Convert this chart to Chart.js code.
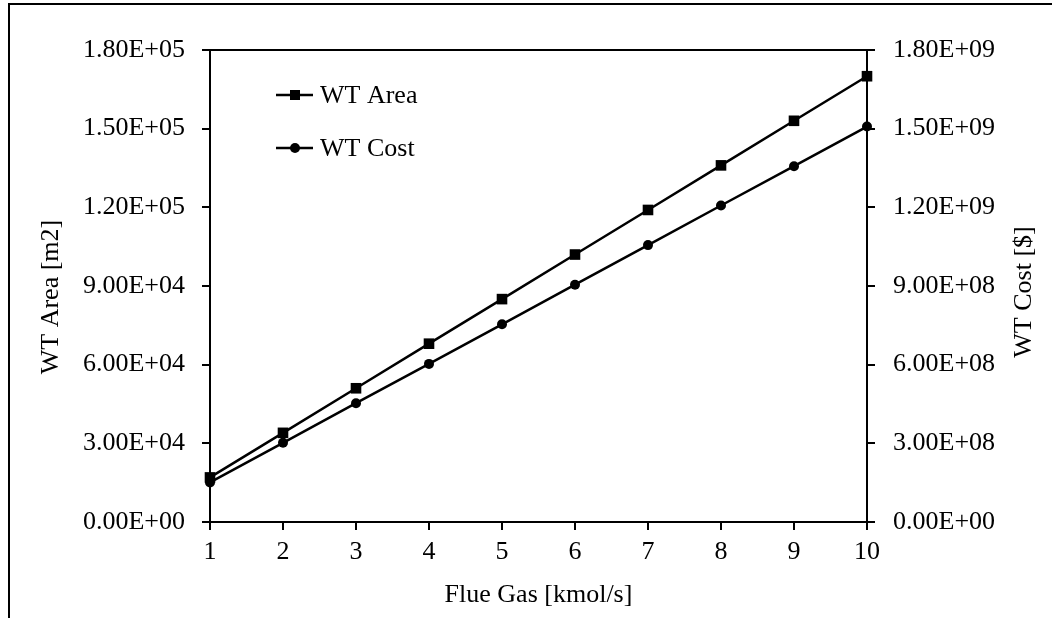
<!DOCTYPE html>
<html>
<head>
<meta charset="utf-8">
<title>WT Area and Cost</title>
<script src="https://cdn.jsdelivr.net/npm/chart.js@4/dist/chart.umd.min.js"></script>
<style>
  body { margin: 0; background: #fff; }
  canvas { display: block; }
</style>
</head>
<body>
<canvas id="chart" width="1052" height="618"></canvas>
<script>
// values
const flueGas = [1, 2, 3, 4, 5, 6, 7, 8, 9, 10];
const wtArea = [17000, 34000, 51000, 68000, 85000, 102000, 119000, 136000, 153000, 170000];
const wtCost = [1.51e8, 3.02e8, 4.53e8, 6.03e8, 7.54e8, 9.05e8, 1.056e9, 1.207e9, 1.357e9, 1.508e9];
const seriesNames = ['WT Area', 'WT Cost'];
const axisTitles = ['Flue Gas [kmol/s]', 'WT Area [m2]', 'WT Cost [$]'];

const serif = "'Liberation Serif', 'Times New Roman', serif";
const fs = 26;

function sci(v) {
    if (v === 0) return '0.00E+00';
    let e = Math.floor(Math.log10(Math.abs(v)) + 1e-9);
    let m = v / Math.pow(10, e);
    let es = (e < 0 ? '-' : '+') + String(Math.abs(e)).padStart(2, '0');
    return m.toFixed(2) + 'E' + es;
}

function sideTitle(ctx, text, x, y) {
    ctx.save();
    ctx.fillStyle = '#000';
    ctx.font = fs + 'px ' + serif;
    ctx.textAlign = 'center';
    ctx.textBaseline = 'middle';
    ctx.translate(x, y);
    ctx.rotate(-Math.PI / 2);
    ctx.fillText(text, 0, 0);
    ctx.restore();
}

// page frame, box top line, y titles (both read bottom to top), legend
const extras = {
    id: 'extras',
    beforeDraw(chart) {
        const ctx = chart.ctx;
        ctx.save();
        ctx.fillStyle = '#000';
        ctx.fillRect(8, 3, 2, 615);
        ctx.fillRect(8, 3, 1044, 2);
        ctx.restore();
    },
    afterDraw(chart) {
        const ctx = chart.ctx;
        const a = chart.chartArea;
        ctx.save();
        ctx.strokeStyle = '#000';
        ctx.lineWidth = 2;
        ctx.beginPath();
        ctx.moveTo(a.left, a.top);
        ctx.lineTo(a.right + 8, a.top);
        ctx.stroke();
        ctx.restore();

        sideTitle(ctx, axisTitles[1], 51, 297);
        sideTitle(ctx, axisTitles[2], 1024, 292);

        // legend inside the plot
        ctx.save();
        chart.data.datasets.forEach((ds, i) => {
            let y = 95 + i * 53;
            ctx.strokeStyle = '#000';
            ctx.lineWidth = 2.5;
            ctx.beginPath();
            ctx.moveTo(276, y);
            ctx.lineTo(313, y);
            ctx.stroke();
            ctx.fillStyle = '#000';
            if (ds.pointStyle === 'rect') {
                ctx.fillRect(290, y - 5, 10, 10);
            } else {
                ctx.beginPath();
                ctx.arc(295, y, 5, 0, Math.PI * 2);
                ctx.fill();
            }
            ctx.font = fs + 'px ' + serif;
            ctx.textAlign = 'left';
            ctx.textBaseline = 'middle';
            ctx.fillText(ds.label, 320, y + 1);
        });
        ctx.restore();
    }
};

const axisGrid = { display: true, drawOnChartArea: false, drawTicks: true, tickLength: 8, color: '#000', lineWidth: 2 };
const axisBorder = { display: true, color: '#000', width: 2 };

new Chart(document.getElementById('chart').getContext('2d'), {
    type: 'line',
    data: {
        labels: flueGas,
        datasets: [{
            label: seriesNames[0],
            data: flueGas.map((x, i) => ({ x: x, y: wtArea[i] })),
            yAxisID: 'yArea',
            borderColor: '#000',
            backgroundColor: '#000',
            borderWidth: 2.5,
            pointStyle: 'rect',
            pointRadius: 7.5,
            pointBorderWidth: 0,
            tension: 0,
            clip: false
        }, {
            label: seriesNames[1],
            data: flueGas.map((x, i) => ({ x: x, y: wtCost[i] })),
            yAxisID: 'yCost',
            borderColor: '#000',
            backgroundColor: '#000',
            borderWidth: 2.5,
            pointStyle: 'circle',
            pointRadius: 5,
            pointBorderWidth: 0,
            tension: 0,
            clip: false
        }]
    },
    options: {
        responsive: false,
        devicePixelRatio: 1,
        animation: false,
        layout: { padding: { top: 50, left: 0, right: 0, bottom: 0 } },
        plugins: { legend: { display: false }, tooltip: { enabled: false } },
        scales: {
            x: {
                type: 'linear',
                min: 1,
                max: 10,
                grid: axisGrid,
                border: axisBorder,
                ticks: { stepSize: 1, color: '#000', padding: 7, maxRotation: 0, font: { family: serif, size: fs } },
                title: { display: true, text: axisTitles[0], color: '#000', padding: { top: 0, bottom: 7 }, font: { family: serif, size: fs } },
                afterFit(s) { s.height = 96; }
            },
            yArea: {
                position: 'left',
                min: 0,
                max: 180000,
                grid: axisGrid,
                border: axisBorder,
                ticks: { stepSize: 30000, color: '#000', padding: 17, font: { family: serif, size: fs }, callback: v => sci(v) },
                afterFit(s) { s.width = 210; }
            },
            yCost: {
                position: 'right',
                min: 0,
                max: 1.8e9,
                grid: axisGrid,
                border: axisBorder,
                ticks: { stepSize: 3e8, color: '#000', padding: 18, font: { family: serif, size: fs }, callback: v => sci(v) },
                afterFit(s) { s.width = 185; }
            }
        }
    },
    plugins: [extras]
});
</script>
</body>
</html>
